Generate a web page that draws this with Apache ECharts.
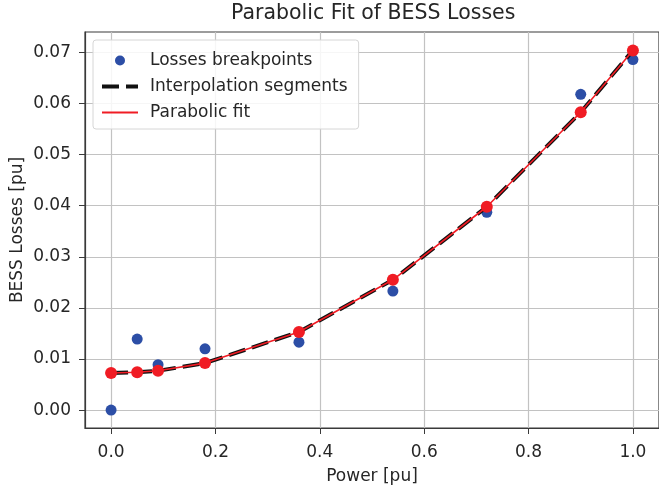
<!DOCTYPE html>
<html>
<head>
<meta charset="utf-8">
<script src="https://cdn.jsdelivr.net/npm/echarts@6/dist/echarts.min.js"></script>
<style>
  html, body { margin: 0; padding: 0; background: #fff; }
  #chart { width: 659px; height: 490px; }
</style>
</head>
<body>
<div id="chart"></div>
<script>
// Breakpoints of the BESS loss curve (power in pu)
const powerPu = [0, 0.05, 0.09, 0.18, 0.36, 0.54, 0.72, 0.90, 1.0];
// Measured losses at each breakpoint
const lossBreakpoints = [0.0000, 0.0139, 0.0089, 0.0120, 0.0133, 0.0233, 0.0387, 0.0618, 0.0686];
// Parabolic fit evaluated at the breakpoints
const fitAtBreakpoints = [0.00725, 0.0074, 0.0077, 0.0092, 0.0153, 0.0255, 0.0398, 0.0583, 0.0704];
// Tick positions
const xTicks = [0.0, 0.2, 0.4, 0.6, 0.8, 1.0];
const yTicks = [0.00, 0.01, 0.02, 0.03, 0.04, 0.05, 0.06, 0.07];

const pairs = (xs, ys) => xs.map((x, i) => [x, ys[i]]);

const FONT = 'DejaVu Sans';
const TEXT = '#262626';
const BLUE = '#2c4ea6';
const RED = '#f01c24';
const AXIS = '#3a3a3a';
const DASH = [17, 7];

const chart = echarts.init(document.getElementById('chart'), null, { renderer: 'canvas' });

chart.setOption({
  animation: false,
  backgroundColor: '#ffffff',
  textStyle: { fontFamily: FONT },
  title: {
    text: 'Parabolic Fit of BESS Losses',
    left: 231,
    top: 3,
    padding: 0,
    textStyle: { fontFamily: FONT, fontSize: 20.5, fontWeight: 'normal', color: TEXT }
  },
  grid: {
    left: 85, top: 32, right: 0, bottom: 62,
    outerBoundsMode: 'none',
    containLabel: false,
    show: true, borderColor: AXIS, borderWidth: 1.2, backgroundColor: 'transparent'
  },
  legend: {
    orient: 'vertical',
    left: 93, top: 40,
    padding: [12, 11, 8, 7],
    itemWidth: 36, itemHeight: 10, itemGap: 9,
    backgroundColor: 'rgba(255,255,255,0.85)',
    borderColor: '#d6d6d6', borderWidth: 1, borderRadius: 3,
    textStyle: { fontFamily: FONT, fontSize: 17, lineHeight: 17, color: TEXT, padding: [0, 0, 0, 7] },
    data: [
      { name: 'Losses breakpoints' },
      {
        name: 'Interpolation segments',
        itemStyle: { color: 'rgba(0,0,0,0)', borderWidth: 0 },
        lineStyle: { color: '#111111', width: 4, type: DASH }
      },
      {
        name: 'Parabolic fit',
        itemStyle: { color: 'rgba(0,0,0,0)', borderWidth: 0 },
        lineStyle: { color: RED, width: 2 }
      }
    ]
  },
  xAxis: {
    type: 'value',
    min: -0.05, max: 1.05,
    name: 'Power [pu]',
    nameLocation: 'middle', nameGap: 40,
    nameMoveOverlap: false,
    nameTextStyle: { fontFamily: FONT, fontSize: 17, color: TEXT },
    axisLine: { show: true, onZero: false, lineStyle: { color: AXIS, width: 1.2 } },
    axisTick: { show: true, length: 6, customValues: xTicks, lineStyle: { color: AXIS } },
    axisLabel: {
      customValues: xTicks, margin: 16,
      fontFamily: FONT, fontSize: 17, color: TEXT,
      formatter: v => v.toFixed(1)
    },
    splitLine: { show: true, lineStyle: { color: '#c2c2c2', width: 1.2 } }
  },
  yAxis: {
    type: 'value',
    min: -0.0035, max: 0.0740,
    name: 'BESS Losses [pu]',
    nameLocation: 'middle', nameGap: 59,
    nameMoveOverlap: false,
    nameTextStyle: { fontFamily: FONT, fontSize: 17, color: TEXT },
    axisLine: { show: true, onZero: false, lineStyle: { color: AXIS, width: 1.2 } },
    axisTick: { show: true, length: 6, customValues: yTicks, lineStyle: { color: AXIS } },
    axisLabel: {
      customValues: yTicks, margin: 14,
      fontFamily: FONT, fontSize: 17, color: TEXT,
      formatter: v => v.toFixed(2)
    },
    splitLine: { show: true, lineStyle: { color: '#c2c2c2', width: 1.2 } }
  },
  series: [
    {
      name: 'Losses breakpoints',
      type: 'scatter',
      data: pairs(powerPu, lossBreakpoints),
      symbol: 'circle', symbolSize: 11,
      itemStyle: { color: BLUE, opacity: 1 },
      z: 2
    },
    {
      name: 'Interpolation segments',
      type: 'line',
      data: pairs(powerPu, fitAtBreakpoints),
      symbol: 'none',
      lineStyle: { color: '#111111', width: 4, type: DASH },
      itemStyle: { color: '#111111' },
      z: 3
    },
    {
      name: 'Parabolic fit',
      type: 'line',
      data: pairs(powerPu, fitAtBreakpoints),
      symbol: 'none',
      lineStyle: { color: RED, width: 1.6 },
      itemStyle: { color: RED },
      z: 4
    },
    {
      name: 'fit-points',
      type: 'scatter',
      data: pairs(powerPu, fitAtBreakpoints),
      symbol: 'circle', symbolSize: 12,
      itemStyle: { color: RED, opacity: 1 },
      z: 5
    }
  ]
});
</script>
</body>
</html>
